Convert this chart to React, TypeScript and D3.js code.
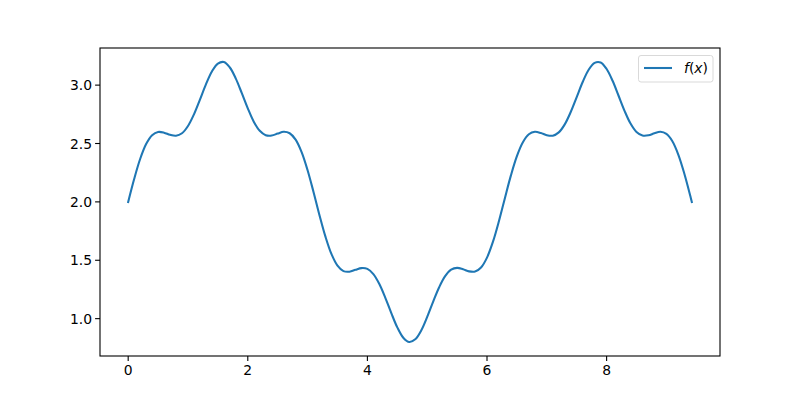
import React from "react";
import * as d3 from "d3";

const xValues = [
  0, 0.1, 0.2, 0.3, 0.4, 0.5, 0.6, 0.7, 0.8, 0.9,
  1.0, 1.1, 1.2, 1.3, 1.4, 1.5, 1.6, 1.7, 1.8, 1.9,
  2.0, 2.1, 2.2, 2.3, 2.4, 2.5, 2.6, 2.7, 2.8, 2.9,
  3.0, 3.1, 3.2, 3.3, 3.4, 3.5, 3.6, 3.7, 3.8, 3.9,
  4.0, 4.1, 4.2, 4.3, 4.4, 4.5, 4.6, 4.7, 4.8, 4.9,
  5.0, 5.1, 5.2, 5.3, 5.4, 5.5, 5.6, 5.7, 5.8, 5.9,
  6.0, 6.1, 6.2, 6.3, 6.4, 6.5, 6.6, 6.7, 6.8, 6.9,
  7.0, 7.1, 7.2, 7.3, 7.4, 7.5, 7.6, 7.7, 7.8, 7.9,
  8.0, 8.1, 8.2, 8.3, 8.4, 8.5, 8.6, 8.7, 8.8, 8.9,
  9.0, 9.1, 9.2, 9.3, 9.4, 9.4248,
];
const yValues = [
  2.0, 2.196, 2.367, 2.495, 2.571, 2.599, 2.593, 2.574, 2.566, 2.588,
  2.65, 2.75, 2.876, 3.007, 3.117, 3.185, 3.198, 3.151, 3.056, 2.931,
  2.801, 2.687, 2.609, 2.571, 2.568, 2.585, 2.6, 2.588, 2.533, 2.426,
  2.271, 2.083, 1.884, 1.7, 1.552, 1.454, 1.407, 1.402, 1.418, 1.433,
  1.426, 1.381, 1.296, 1.178, 1.047, 0.925, 0.837, 0.8, 0.823, 0.899,
  1.015, 1.146, 1.269, 1.364, 1.419, 1.435, 1.423, 1.405, 1.403, 1.438,
  1.523, 1.659, 1.836, 2.034, 2.227, 2.392, 2.511, 2.579, 2.6, 2.59,
  2.571, 2.567, 2.595, 2.664, 2.77, 2.898, 3.027, 3.132, 3.191, 3.194,
  3.138, 3.037, 2.909, 2.78, 2.671, 2.599, 2.568, 2.57, 2.588, 2.6,
  2.582, 2.519, 2.403, 2.241, 2.05, 2.0,
];
const xTicks = [0, 2, 4, 6, 8];
const yTicks = [1.0, 1.5, 2.0, 2.5, 3.0];

const W = 800, H = 400;
const L = 100, R = 720, T = 48, B = 356;
const FONT = "DejaVu Sans, sans-serif";
const COLOR = "#1f77b4";

export default function App() {
  const xMin = d3.min(xValues)!, xMax = d3.max(xValues)!;
  const yMin = d3.min(yValues)!, yMax = d3.max(yValues)!;
  const xPad = (xMax - xMin) * 0.05, yPad = (yMax - yMin) * 0.05;
  const x = d3.scaleLinear().domain([xMin - xPad, xMax + xPad]).range([L, R]);
  const y = d3.scaleLinear().domain([yMin - yPad, yMax + yPad]).range([B, T]);
  const pts: [number, number][] = xValues.map((v, i) => [v, yValues[i]]);
  const line = d3.line<[number, number]>()
    .x(d => x(d[0]))
    .y(d => y(d[1]))
    .curve(d3.curveCatmullRom.alpha(0.5));

  return (
    <svg width={W} height={H} style={{ position: "absolute", left: 0, top: 0, background: "#fff" }}>
      <rect x={0} y={0} width={W} height={H} fill="#fff" />
      <path d={line(pts) || ""} fill="none" stroke={COLOR} strokeWidth={2.08} strokeLinejoin="round" strokeLinecap="square" />
      <rect x={L} y={T} width={R - L} height={B - T} fill="none" stroke="#000" strokeWidth={1.1} />
      {xTicks.map(t => (
        <g key={"x" + t}>
          <line x1={x(t)} x2={x(t)} y1={B} y2={B + 4.9} stroke="#000" strokeWidth={1.1} />
          <text x={x(t)} y={B + 19} textAnchor="middle" fontFamily={FONT} fontSize={13.9} fill="#000">{t}</text>
        </g>
      ))}
      {yTicks.map(t => (
        <g key={"y" + t}>
          <line x1={L - 4.9} x2={L} y1={y(t)} y2={y(t)} stroke="#000" strokeWidth={1.1} />
          <text x={L - 8} y={y(t) + 5} textAnchor="end" fontFamily={FONT} fontSize={13.9} fill="#000">{t.toFixed(1)}</text>
        </g>
      ))}
      <g>
        <rect x={638.5} y={55.5} width={74.5} height={26.5} rx={2.5} fill="#fff" fillOpacity={0.8} stroke="#d9d9d9" strokeWidth={1} />
        <line x1={644} x2={672} y1={68} y2={68} stroke={COLOR} strokeWidth={2.08} />
        <text x={684} y={73} fontFamily={FONT} fontSize={13.9} fill="#000">
          <tspan fontStyle="italic">f</tspan>
          <tspan>(</tspan>
          <tspan fontStyle="italic">x</tspan>
          <tspan>)</tspan>
        </text>
      </g>
    </svg>
  );
}
